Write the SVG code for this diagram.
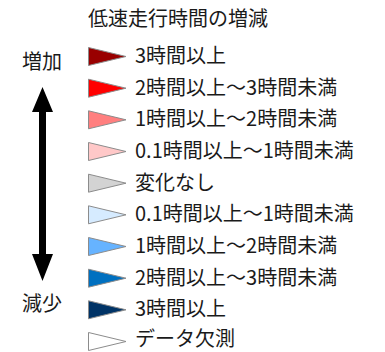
<svg xmlns="http://www.w3.org/2000/svg" width="385" height="352" viewBox="0 0 385 352">
<style>
text{font-family:"Noto Sans CJK JP","Noto Sans",sans-serif;font-size:20px;fill:#1a1a1a}
.tri{stroke:#8c8c8c;stroke-width:1}
</style>
<rect width="385" height="352" fill="#fff"/>
<g id="title"><text x="88" y="25.5">低速走行時間の増減</text></g>
<g id="label-up"><text x="22" y="69">増加</text></g>
<g id="label-down"><text x="22" y="311">減少</text></g>
<g id="axis">
<polygon points="42.5,87 53,112 46,112 46,254 53,254 42.5,281 32,254 39,254 39,112 32,112" fill="#000"/>
</g>
<g id="item1"><polygon class="tri" points="88.5,47.5 88.5,65.5 126,56.5" fill="#990000"/><text x="135" y="63">3時間以上</text></g>
<g id="item2"><polygon class="tri" points="88.5,79.2 88.5,97.2 126,88.2" fill="#ff0000"/><text x="135" y="94.7">2時間以上～3時間未満</text></g>
<g id="item3"><polygon class="tri" points="88.5,110.8 88.5,128.8 126,119.8" fill="#ff7f7f"/><text x="135" y="126.3">1時間以上～2時間未満</text></g>
<g id="item4"><polygon class="tri" points="88.5,142.5 88.5,160.5 126,151.5" fill="#ffc8c8"/><text x="135" y="158">0.1時間以上～1時間未満</text></g>
<g id="item5"><polygon class="tri" points="88.5,174.2 88.5,192.2 126,183.2" fill="#d3d3d3"/><text x="135" y="189.7">変化なし</text></g>
<g id="item6"><polygon class="tri" points="88.5,205.8 88.5,223.8 126,214.8" fill="#d6ebff"/><text x="135" y="221.3">0.1時間以上～1時間未満</text></g>
<g id="item7"><polygon class="tri" points="88.5,237.5 88.5,255.5 126,246.5" fill="#66b3ff"/><text x="135" y="253">1時間以上～2時間未満</text></g>
<g id="item8"><polygon class="tri" points="88.5,269.2 88.5,287.2 126,278.2" fill="#0070c0"/><text x="135" y="284.7">2時間以上～3時間未満</text></g>
<g id="item9"><polygon class="tri" points="88.5,300.8 88.5,318.8 126,309.8" fill="#003366"/><text x="135" y="316.3">3時間以上</text></g>
<g id="item10"><polygon class="tri" points="88.5,332.5 88.5,350.5 126,341.5" fill="#ffffff"/><text x="135" y="346">データ欠測</text></g>
</svg>
